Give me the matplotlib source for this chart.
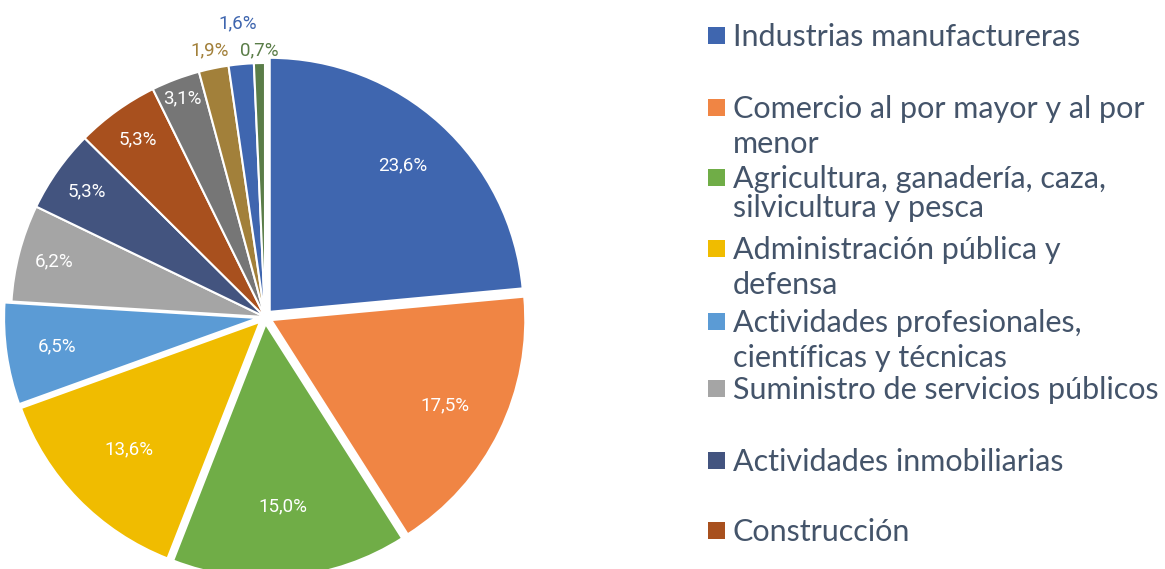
import matplotlib
matplotlib.use("Agg")
import matplotlib.pyplot as plt
from matplotlib.patches import Rectangle
import numpy as np

# data
values = [23.6, 17.5, 15.0, 13.6, 6.5, 6.2, 5.3, 5.3, 3.1, 1.9, 1.6, 0.7]
colors = ["#3F66AF", "#F08544", "#70AD47", "#F0BC00", "#5B9BD5", "#A5A5A5",
          "#43547F", "#A8501E", "#767676", "#A2803A", "#3F66AF", "#5A7D48"]
legend_labels = ["Industrias manufactureras",
                 "Comercio al por mayor y al por\nmenor",
                 "Agricultura, ganadería, caza,\nsilvicultura y pesca",
                 "Administración pública y\ndefensa",
                 "Actividades profesionales,\ncientíficas y técnicas",
                 "Suministro de servicios públicos",
                 "Actividades inmobiliarias",
                 "Construcción"]

# styling
explode = [7, 7, 7, 7, 7, 0, 0, 0, 0, 0, 0, 0]
label_r = [0.78, 0.76, 0.72, 0.72, 0.8, 0.86, 0.86, 0.86, 0.92, 1.07, 1.16, 1.05]
label_c = ["white"] * 9 + ["#A2803A", "#3F66AF", "#5A7D48"]
legend_y = [35, 107, 177, 248, 321, 388, 460, 530]
legend_ls = [1.3, 1.3, 1.05, 1.3, 1.3, 1.3, 1.3, 1.3]
TXT = "#44546A"
H = 569

fig = plt.figure(figsize=(11.65, 5.69), dpi=100)
ax = fig.add_axes([0, 0, 1, 1])
ax.set_xlim(0, 1165)
ax.set_ylim(0, H)
ax.set_aspect("equal")
ax.axis("off")

cx, cy, R = 265, H - 317, 254
wedges, _ = ax.pie(values, colors=colors, startangle=90, counterclock=False,
                   radius=R, center=(cx, cy), explode=explode,
                   wedgeprops=dict(edgecolor="white", linewidth=1.5))
ax.set_xlim(0, 1165)
ax.set_ylim(0, H)

for w, v, r, c in zip(wedges, values, label_r, label_c):
    th = np.deg2rad((w.theta1 + w.theta2) / 2)
    x0, y0 = w.center
    ax.text(x0 + R * r * np.cos(th), y0 + R * r * np.sin(th),
            f"{v:.1f}%".replace(".", ","), ha="center", va="center",
            fontsize=13.5, color=c, family="Roboto", fontstretch="condensed")

# legend drawn by hand, first line of each label centred on its marker
for lab, y, col, ls in zip(legend_labels, legend_y, colors, legend_ls):
    ax.add_patch(Rectangle((708, H - y - 8.5), 17, 17, facecolor=col, edgecolor="none"))
    ax.text(733, H - y + 12, lab, ha="left", va="top", fontsize=22, color=TXT,
            family="Lato", linespacing=ls)

fig.savefig("out.png", dpi=100, facecolor="white")
